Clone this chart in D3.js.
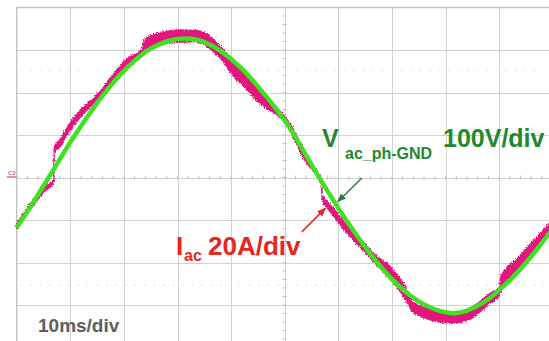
<!DOCTYPE html>
<html>
<head>
<meta charset="utf-8">
<script src="https://cdn.jsdelivr.net/npm/d3@7/dist/d3.min.js"></script>
<style>
  html, body { margin: 0; padding: 0; background: #fff; }
  svg { display: block; }
  .grid line { stroke: #d2d2d2; stroke-width: 1; shape-rendering: crispEdges; }
  .frame line { stroke: #c4c4c4; stroke-width: 1.5; }
  .dots line { stroke: #d8d8d8; stroke-width: 1.2; stroke-dasharray: 1.5, 8; }
  .ticks line { stroke: #c0c0c0; stroke-width: 1; }
  text { font-family: "Liberation Sans", Arial, sans-serif; font-weight: bold; }
</style>
</head>
<body>
<div id="chart"></div>
<script>
// time divisions (ms), 10 ms/div
var timeDivs = [0, 10, 20, 30, 40, 50, 60, 70, 80, 90, 100];
// voltage divisions (V), 100 V/div
var voltDivs = [-400, -300, -200, -100, 0, 100, 200, 300, 400];
// dotted cursor levels (V)
var cursorLevels = [253, -253];

// Vac_ph-GND, sampled every 2 ms
var voltTime = [0, 2, 4, 6, 8, 10, 12, 14, 16, 18, 20, 22, 24, 26, 28, 30, 32, 34, 36, 38,
  40, 42, 44, 46, 48, 50, 52, 54, 56, 58, 60, 62, 64, 66, 68, 70, 72, 74, 76, 78,
  80, 82, 84, 86, 88, 90, 92, 94, 96, 98, 100];
var voltValues = [-118, -80, -40, 1, 42, 83, 121, 158, 192, 223, 251, 275, 295, 310, 320, 326, 327, 323, 313, 298,
  279, 256, 229, 199, 168, 134, 95, 52, 9, -32, -72, -110, -146, -180, -211, -239, -263, -283, -299, -310,
  -317, -319, -313, -302, -286, -265, -242, -215, -186, -154, -120];

// Iac (A), centre of the noisy band, and band width (A)
var currTime = [0, 1.9, 3.8, 5.3, 6.6, 6.9, 7.0, 8.1, 9.9, 11.8,
  13.7, 15.5, 17.4, 19.3, 21.1, 23.0, 23.6, 23.9, 25.8, 27.7,
  30.5, 33.3, 35.1, 37.0, 38.9, 40.7, 42.6, 44.5, 46.3, 48.2,
  50.1, 51.9, 53.4, 55.1, 56.6, 56.9, 57.0, 58.5, 61.3, 64.1,
  66.9, 69.7, 72.4, 73.8, 76.2, 79.0, 81.8, 84.6, 86.4, 88.3,
  90.0, 90.4, 92.0, 93.9, 95.8, 97.6, 99.3, 100];
var currValues = [-22.8, -15.8, -9.6, -5.4, -2.6, -1.6, 12.9, 16.2, 23.8, 29.9,
  34.6, 38.8, 44.9, 50.6, 54.8, 58.1, 60.0, 62.8, 64.7, 65.9,
  66.6, 66.6, 65.2, 61.4, 56.2, 50.1, 45.9, 40.2, 35.5, 31.8,
  27.1, 19.5, 11.5, 4.9, -0.7, -3.1, -9.6, -14.4, -23.3, -30.8,
  -38.4, -44.9, -53.9, -60.5, -63.8, -65.6, -66.1, -64.2, -60.9, -56.7,
  -53.9, -49.2, -44.0, -39.8, -34.1, -28.9, -24.2, -22.4];
var currRipple = [1.9, 1.9, 2.4, 1.9, 1.4, 0.9, 2.4, 3.3, 3.3, 3.3,
  2.8, 2.8, 3.3, 3.8, 3.8, 2.8, 4.2, 4.7, 5.2, 5.6,
  5.6, 5.2, 5.6, 5.6, 5.6, 6.6, 6.6, 6.6, 4.7, 3.3,
  2.8, 3.3, 3.8, 2.4, 1.4, 0.9, 2.4, 3.3, 3.8, 3.8,
  3.8, 5.6, 5.6, 4.7, 4.7, 4.7, 4.7, 4.7, 4.7, 4.7,
  3.8, 5.6, 5.6, 5.6, 5.6, 4.7, 4.7, 4.7];

function makeChart() {
    var svgWidth = 549, svgHeight = 341;
    var gridLeft = 16.7, divW = 53.6, gridTop = 7.5, divH = 42.5;

    var x = d3.scaleLinear().domain([0, 100]).range([gridLeft, gridLeft + 10 * divW]);
    var yV = d3.scaleLinear().domain([-400, 400]).range([gridTop + 8 * divH, gridTop]);
    var yI = d3.scaleLinear().domain([-80, 80]).range([gridTop + 8 * divH, gridTop]);

    var svg = d3.select('#chart').append('svg')
        .attr('width', svgWidth)
        .attr('height', svgHeight);

    var defs = svg.append('defs');
    // rough edges for the current band
    var rough = defs.append('filter')
        .attr('id', 'rough')
        .attr('x', '-5%').attr('y', '-5%')
        .attr('width', '110%').attr('height', '110%');
    rough.append('feTurbulence')
        .attr('type', 'fractalNoise')
        .attr('baseFrequency', '0.9')
        .attr('numOctaves', 2)
        .attr('seed', 3)
        .attr('result', 'noise');
    rough.append('feDisplacementMap')
        .attr('in', 'SourceGraphic')
        .attr('in2', 'noise')
        .attr('scale', 4)
        .attr('xChannelSelector', 'R')
        .attr('yChannelSelector', 'G');

    ['arrowG', 'arrowR'].forEach(function (id, i) {
        defs.append('marker')
            .attr('id', id)
            .attr('viewBox', '0 0 10 10')
            .attr('refX', 9).attr('refY', 5)
            .attr('markerWidth', 6).attr('markerHeight', 6)
            .attr('orient', 'auto')
            .append('path')
            .attr('d', 'M0,1L10,5L0,9Z')
            .attr('fill', i === 0 ? '#2f7d3a' : '#e4262a');
    });

    // grid
    var grid = svg.append('g').attr('class', 'grid');
    grid.selectAll('.vl').data(timeDivs.slice(1)).enter().append('line')
        .attr('x1', function (d) { return Math.round(x(d)) + 0.5; })
        .attr('x2', function (d) { return Math.round(x(d)) + 0.5; })
        .attr('y1', yV(400)).attr('y2', yV(-400));
    grid.selectAll('.hl').data(voltDivs.slice(0, -1)).enter().append('line')
        .attr('y1', function (d) { return Math.round(yV(d)) + 0.5; })
        .attr('y2', function (d) { return Math.round(yV(d)) + 0.5; })
        .attr('x1', x(0)).attr('x2', x(100));

    var frame = svg.append('g').attr('class', 'frame');
    frame.append('line').attr('x1', x(0)).attr('x2', x(100)).attr('y1', yV(400)).attr('y2', yV(400));
    frame.append('line').attr('x1', x(0)).attr('x2', x(0)).attr('y1', yV(400)).attr('y2', yV(-400));

    svg.append('g').attr('class', 'dots').selectAll('line').data(cursorLevels).enter().append('line')
        .attr('x1', x(0) + 4).attr('x2', x(100))
        .attr('y1', function (d) { return yV(d); })
        .attr('y2', function (d) { return yV(d); });

    // minor ticks on the centre axes
    var ticks = svg.append('g').attr('class', 'ticks');
    ticks.selectAll('.tx').data(d3.range(0, 101, 2)).enter().append('line')
        .attr('x1', function (d) { return x(d); })
        .attr('x2', function (d) { return x(d); })
        .attr('y1', yV(0) - 2).attr('y2', yV(0) + 2);
    ticks.selectAll('.ty').data(d3.range(-400, 401, 20)).enter().append('line')
        .attr('y1', function (d) { return yV(d); })
        .attr('y2', function (d) { return yV(d); })
        .attr('x1', x(50) - 2).attr('x2', x(50) + 2);

    // channel marker
    svg.append('line')
        .attr('x1', 7).attr('x2', x(0))
        .attr('y1', yV(0) - 0.5).attr('y2', yV(0) - 0.5)
        .attr('stroke', '#d86a92').attr('stroke-width', 1.5);
    svg.append('text')
        .attr('x', 8).attr('y', yV(0) - 2.5)
        .attr('font-size', 6).attr('font-weight', 'normal')
        .attr('fill', '#d86a92')
        .text('C3');

    // current band
    var currData = currTime.map(function (t, i) {
        return { t: t, i: currValues[i], r: currRipple[i] };
    });
    var currArea = d3.area()
        .curve(d3.curveMonotoneX)
        .x(function (d) { return x(d.t); })
        .y0(function (d) { return yI(d.i - d.r / 2); })
        .y1(function (d) { return yI(d.i + d.r / 2); });
    svg.append('path')
        .datum(currData)
        .attr('d', currArea)
        .attr('fill', '#e2147c')
        .attr('stroke', '#e2147c')
        .attr('stroke-width', 1.5)
        .attr('filter', 'url(#rough)');

    // voltage line
    var voltData = voltTime.map(function (t, i) { return { t: t, v: voltValues[i] }; });
    var voltLine = d3.line()
        .curve(d3.curveCatmullRom)
        .x(function (d) { return x(d.t); })
        .y(function (d) { return yV(d.v); });
    svg.append('path')
        .datum(voltData)
        .attr('d', voltLine)
        .attr('fill', 'none')
        .attr('stroke', '#40e022')
        .attr('stroke-width', 4.5)
        .attr('stroke-linejoin', 'round');

    // annotation arrows
    svg.append('line')
        .attr('x1', x(64.4)).attr('y1', yV(-1))
        .attr('x2', x(59.9)).attr('y2', yV(-57))
        .attr('stroke', '#2f7d3a').attr('stroke-width', 1.5)
        .attr('marker-end', 'url(#arrowG)');
    svg.append('line')
        .attr('x1', x(53.2)).attr('y1', yV(-128))
        .attr('x2', x(57.6)).attr('y2', yV(-72))
        .attr('stroke', '#e4262a').attr('stroke-width', 1.5)
        .attr('marker-end', 'url(#arrowR)');

    // labels
    var green = '#1f8a2e', red = '#e8261e';
    svg.append('text').attr('x', 322).attr('y', 147).attr('font-size', 25).attr('fill', green).text('V');
    svg.append('text').attr('x', 345).attr('y', 159).attr('font-size', 16).attr('fill', green).text('ac_ph-GND');
    svg.append('text').attr('x', 443).attr('y', 147).attr('font-size', 25).attr('fill', green).text('100V/div');

    svg.append('text').attr('x', 176).attr('y', 255).attr('font-size', 26).attr('fill', red).text('I');
    svg.append('text').attr('x', 184).attr('y', 261).attr('font-size', 16).attr('fill', red).text('ac');
    svg.append('text').attr('x', 208).attr('y', 255).attr('font-size', 26).attr('fill', red).text('20A/div');

    svg.append('text').attr('x', 38).attr('y', 332).attr('font-size', 19).attr('fill', '#5e5e5e').text('10ms/div');
}

makeChart();
</script>
</body>
</html>
